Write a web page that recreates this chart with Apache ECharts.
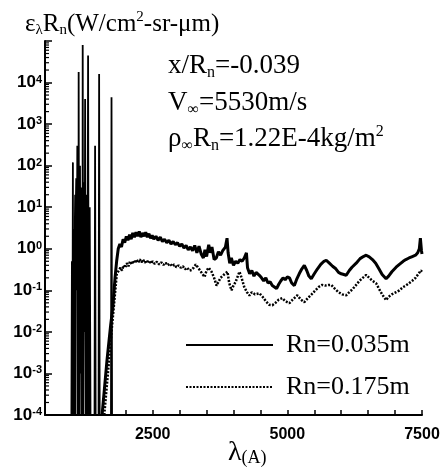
<!DOCTYPE html>
<html><head><meta charset="utf-8">
<script src="https://cdn.jsdelivr.net/npm/echarts@6/dist/echarts.min.js"></script>
<style>html,body{margin:0;padding:0;background:#fff}#c{width:442px;height:467px}</style>
</head><body><div id="c"></div>
<script>
// Atomic-line spikes (shared), wavelength in Angstrom, value in W/cm2-sr-um
const spikeLambda = [990,1000,1008,1018,1024,1040,1050,1055,1060,1066,1070,1080,1090,1100,1110,1115,1120,1125,1135,1140,1145,1150,1160,1175,1185,1190,1195,1200,1210,1225,1235,1245,1255,1260,1265,1270,1285,1300,1312,1320,1325,1330,1345,1420,1430,1440,1495,1505,1515,1725,1735,1745];
const spikeValue  = [1e-4,0.5,1e-4,120,1e-4,3,1e-4,5,20,1e-4,8,50,0.1,300,1e-4,2,1e-4,1.8e4,1e-4,8,1e-4,100,1e-3,30,1e-4,15,1e-4,8e4,1e-4,40,0.01,4000,1e-4,6,1e-4,20,1e-4,4.5e4,1e-4,3,1e-4,10,1e-4,1e-4,300,1e-4,1e-4,1.6e4,1e-4,1e-4,4400,1e-4];

// Rn = 0.035 m (solid)
const lambda035 = [1560,1650,1720,1760,1800,1830,1860,1890,1920,1950,1980,2010,2040,2070,2100,2130,2160,2190,2220,2250,2280,2310,2340,2370,2400,2430,2460,2490,2520,2560,2600,2640,2680,2720,2760,2800,2840,2880,2920,2960,3000,3040,3080,3120,3160,3200,3240,3280,3320,3360,3400,3440,3470,3500,3540,3570,3600,3640,3680,3720,3760,3800,3850,3880,3900,3930,3960,4000,4040,4080,4120,4160,4200,4240,4260,4300,4340,4380,4420,4480,4520,4560,4600,4640,4680,4720,4760,4800,4840,4880,4920,4960,5000,5040,5080,5130,5170,5220,5270,5315,5360,5400,5444,5500,5560,5620,5680,5722,5780,5840,5900,5950,6000,6050,6093,6150,6200,6278,6350,6420,6463,6520,6580,6640,6700,6760,6833,6880,6940,7019,7080,7150,7200,7259,7320,7380,7420,7450,7470,7490,7500];
const value035  = [1e-4,2e-3,1.5e-2,4e-2,0.2,0.5,1.0,1.3,1.1,1.7,1.4,2.0,1.6,2.2,1.7,2.4,1.9,2.5,2.0,2.6,1.9,2.4,2.0,2.5,1.9,2.3,1.8,2.1,1.7,2.0,1.6,1.9,1.5,1.7,1.4,1.6,1.3,1.5,1.25,1.4,1.15,1.3,1.05,1.2,0.95,1.1,0.9,1.2,0.8,1.15,0.75,0.6,0.95,0.65,1.25,0.8,1.1,0.55,0.6,0.85,0.7,0.9,1.1,1.8,0.8,0.45,0.6,0.4,0.5,0.45,0.55,0.5,0.6,0.8,0.35,0.25,0.3,0.22,0.27,0.23,0.2,0.17,0.2,0.15,0.16,0.13,0.12,0.11,0.14,0.17,0.2,0.18,0.21,0.2,0.15,0.13,0.18,0.25,0.33,0.4,0.3,0.22,0.19,0.25,0.33,0.42,0.5,0.53,0.45,0.38,0.33,0.27,0.25,0.24,0.23,0.3,0.36,0.45,0.58,0.66,0.7,0.64,0.55,0.45,0.33,0.24,0.19,0.22,0.28,0.36,0.42,0.5,0.55,0.6,0.65,0.7,0.8,1.0,1.8,0.9,0.75];

// Rn = 0.175 m (dotted)
const lambda175 = [1600,1680,1740,1790,1833,1870,1900,1930,1960,1990,2020,2050,2080,2110,2140,2170,2200,2230,2260,2290,2320,2350,2380,2410,2440,2470,2500,2540,2580,2620,2660,2700,2740,2780,2820,2860,2900,2940,2980,3020,3060,3100,3140,3180,3222,3260,3300,3333,3380,3420,3463,3500,3540,3593,3640,3685,3720,3760,3796,3840,3889,3920,3963,4000,4040,4074,4111,4150,4200,4250,4296,4340,4400,4481,4540,4600,4660,4722,4780,4840,4907,4960,5037,5100,5185,5250,5315,5380,5450,5520,5580,5648,5700,5760,5815,5880,5950,6020,6093,6150,6220,6278,6340,6400,6463,6520,6580,6648,6700,6760,6833,6880,6940,7019,7080,7150,7200,7259,7320,7380,7444,7480,7500];
const value175  = [1e-4,1.5e-3,1.2e-2,6e-2,0.25,0.3,0.35,0.3,0.4,0.35,0.45,0.38,0.5,0.42,0.52,0.45,0.55,0.46,0.56,0.47,0.55,0.46,0.53,0.45,0.52,0.44,0.5,0.43,0.49,0.42,0.47,0.41,0.46,0.4,0.44,0.38,0.42,0.36,0.4,0.35,0.38,0.32,0.35,0.3,0.31,0.35,0.42,0.4,0.3,0.25,0.21,0.3,0.35,0.28,0.2,0.13,0.16,0.2,0.19,0.25,0.28,0.15,0.1,0.13,0.16,0.15,0.28,0.2,0.12,0.09,0.075,0.09,0.08,0.085,0.07,0.055,0.045,0.044,0.05,0.06,0.065,0.055,0.049,0.06,0.076,0.06,0.052,0.065,0.08,0.1,0.12,0.135,0.13,0.135,0.135,0.11,0.09,0.08,0.076,0.09,0.11,0.135,0.17,0.2,0.235,0.2,0.17,0.148,0.11,0.08,0.058,0.07,0.08,0.09,0.1,0.12,0.13,0.148,0.17,0.2,0.26,0.3,0.28];

const seriesNames = ['Rn=0.035m','Rn=0.175m'];
const xTickLabels = [2500,5000,7500];
const yMinorMultipliers = [2,3,4,5,6,7,8,9];
const yDecades = [-4,-3,-2,-1,0,1,2,3,4];

const zip = (a,b) => a.map((v,i)=>[v,b[i]]);
const minorTicks = [];
yDecades.forEach(e => yMinorMultipliers.forEach(m => minorTicks.push([500, m*Math.pow(10,e)])));

const chart = echarts.init(document.getElementById('c'));
const serif = 'Liberation Serif';
const sans = 'Liberation Sans';
chart.setOption({
  animation:false,
  backgroundColor:'#fff',
  grid:{left:45,right:20,top:41,bottom:52,containLabel:false,outerBoundsMode:'none'},
  xAxis:{type:'value',min:500,max:7500,interval:500,
    axisLine:{lineStyle:{color:'#000',width:2}},
    axisTick:{inside:true,length:5,lineStyle:{color:'#000',width:1.5}},
    splitLine:{show:false},
    axisLabel:{margin:12,color:'#000',fontFamily:sans,fontWeight:'bold',fontSize:16,
      formatter:v=>xTickLabels.includes(v)?String(v):''}
  },
  yAxis:{type:'log',logBase:10,min:1e-4,max:1e5,interval:1,
    axisLine:{lineStyle:{color:'#000',width:2}},
    axisTick:{inside:true,length:7,lineStyle:{color:'#000',width:1.5}},
    splitLine:{show:false},
    axisLabel:{margin:3,color:'#000',
      formatter:v=>{const e=Math.round(Math.log10(v)); if(e>4) return ''; return '{b|10}{s|'+e+'}';},
      rich:{b:{fontFamily:sans,fontWeight:'bold',fontSize:17,color:'#000'},
            s:{fontFamily:sans,fontWeight:'bold',fontSize:11,color:'#000',verticalAlign:'top'}}}
  },
  legend:{data:seriesNames,orient:'vertical',left:180,top:327,itemWidth:87,itemHeight:22,itemGap:16,
    itemStyle:{color:'rgba(0,0,0,0)',borderColor:'rgba(0,0,0,0)',borderWidth:0},
    textStyle:{fontFamily:serif,fontSize:26,color:'#000',padding:[0,0,0,8]}},
  graphic:[
    {type:'text',left:25,top:10,style:{text:'{a|ε}{s|λ}{a|R}{s|n}{a|(W/cm}{p|2}{a|-sr-μm)}',
      rich:{a:{fontFamily:serif,fontSize:25,color:'#000',lineHeight:28},
            s:{fontFamily:serif,fontSize:15,color:'#000',verticalAlign:'bottom',lineHeight:15},
            p:{fontFamily:serif,fontSize:15,color:'#000',verticalAlign:'top',lineHeight:15}}}},
    {type:'text',left:168,top:52,style:{text:'{a|x/R}{s|n}{a|=-0.039}',
      rich:{a:{fontFamily:serif,fontSize:27,color:'#000',lineHeight:30},
            s:{fontFamily:serif,fontSize:16,color:'#000',verticalAlign:'bottom',lineHeight:16}}}},
    {type:'text',left:168,top:89,style:{text:'{a|V}{s|∞}{a|=5530m/s}',
      rich:{a:{fontFamily:serif,fontSize:27,color:'#000',lineHeight:30},
            s:{fontFamily:serif,fontSize:16,color:'#000',verticalAlign:'bottom',lineHeight:16}}}},
    {type:'text',left:168,top:124,style:{text:'{a|ρ}{s|∞}{a|R}{s|n}{a|=1.22E-4kg/m}{p|2}',
      rich:{a:{fontFamily:serif,fontSize:27,color:'#000',lineHeight:30},
            s:{fontFamily:serif,fontSize:16,color:'#000',verticalAlign:'bottom',lineHeight:16},
            p:{fontFamily:serif,fontSize:16,color:'#000',verticalAlign:'top',lineHeight:16}}}},
    {type:'text',left:228,top:439,style:{text:'{l|λ}{a|(A)}',
      rich:{l:{fontFamily:serif,fontSize:28,color:'#000',lineHeight:28},
            a:{fontFamily:serif,fontSize:18,color:'#000',verticalAlign:'bottom',lineHeight:20}}}}
  ],
  series:[
    {name:'spikes',type:'line',data:zip(spikeLambda,spikeValue),symbol:'none',
      lineStyle:{color:'#000',width:1.8},itemStyle:{color:'#000'},silent:true,z:2},
    {name:seriesNames[0],type:'line',data:zip(lambda035,value035),symbol:'none',
      lineStyle:{color:'#000',width:3},itemStyle:{color:'#000'},z:3},
    {name:seriesNames[1],type:'line',data:zip(lambda175,value175),symbol:'none',
      lineStyle:{color:'#000',width:2.5,type:[2,1.5]},itemStyle:{color:'#000'},z:3},
    {name:'minorTicks',type:'custom',data:minorTicks,silent:true,clip:false,z:4,
      renderItem:(params,api)=>{const p=api.coord([api.value(0),api.value(1)]);
        return {type:'line',shape:{x1:p[0],y1:p[1],x2:p[0]+4,y2:p[1]},style:{stroke:'#000',lineWidth:1.2}};}}
  ]
});
</script></body></html>
